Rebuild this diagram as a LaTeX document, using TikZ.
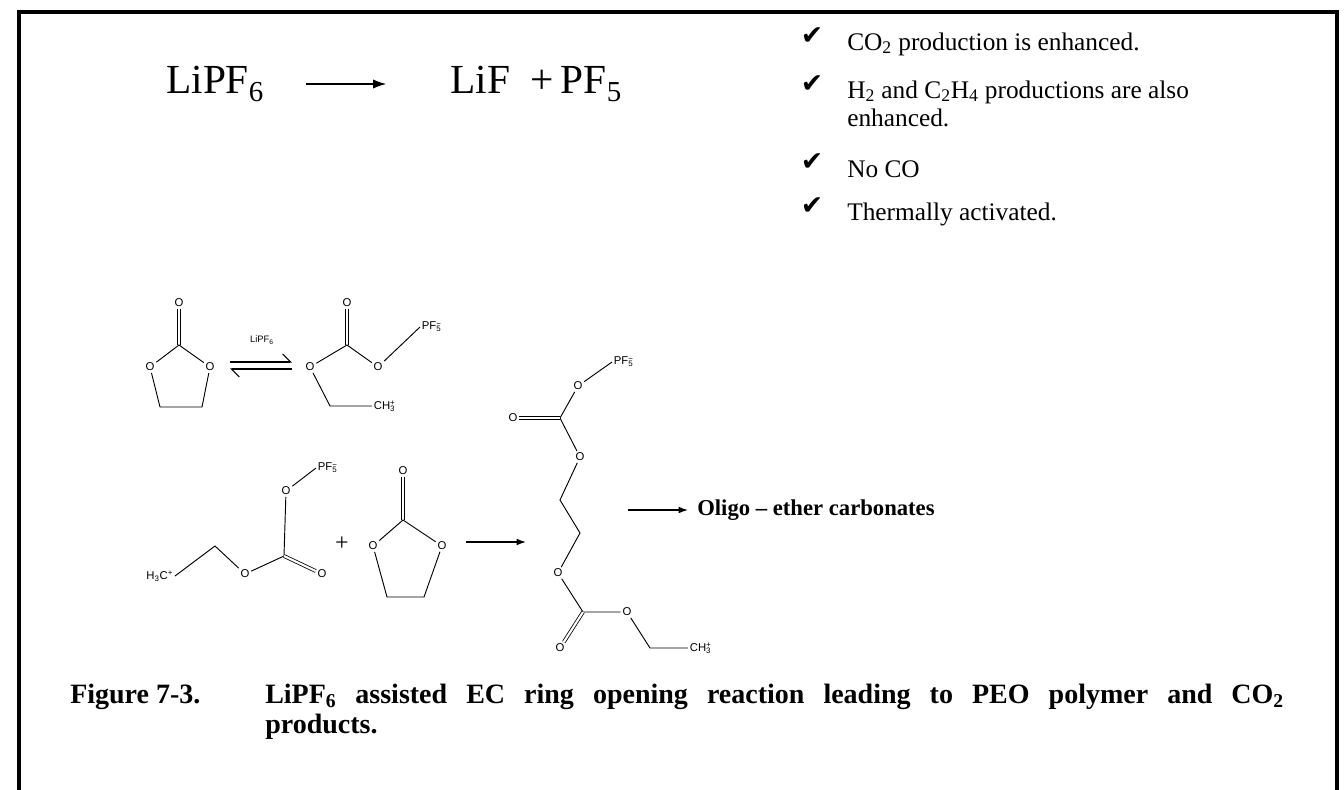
\documentclass[tikz,border=0pt]{standalone}
\usepackage{fontspec}
\setmainfont{Liberation Serif}
\newfontfamily\chemsans{Liberation Sans}
\newfontfamily\symf{DejaVu Sans}
\usetikzlibrary{arrows.meta}
\newcommand{\sbs}[1]{\textsubscript{#1}}
\newcommand{\sps}[1]{\textsuperscript{#1}}
\newcommand{\ion}[2]{\ensuremath{\vphantom{X}}\rlap{\textsuperscript{#2}}\textsubscript{#1}}
\begin{document}
\begin{tikzpicture}[x=0.75pt,y=-0.75pt,
  atm/.style={font=\chemsans\fontsize{8.5}{9}\selectfont,inner sep=1.2pt},
  bd/.style={line width=0.7pt},
  db/.style={line width=0.6pt,double,double distance=1.6pt},
  rx/.style={line width=0.9pt,-{Latex[length=7pt,width=5pt]}},
  chk/.style={font=\symf\fontsize{20}{20}\selectfont,inner sep=0pt},
  lst/.style={anchor=west,font=\fontsize{19}{22}\selectfont,inner sep=0pt}]
\useasboundingbox (0,0) rectangle (1344,789);
\draw[line width=3.2pt] (19,800) -- (19,12) -- (1337,12) -- (1337,800);
% top equation
\node[font=\fontsize{31}{34}\selectfont,anchor=west,inner sep=0pt] (lipf) at (166,84) {LiPF\sbs{6}};
\node[font=\fontsize{31}{34}\selectfont,anchor=west,inner sep=0pt] (lif) at (450,84) {LiF\ \ +\,PF\sbs{5}};
\draw[rx,line width=1.2pt,-{Latex[length=10pt,width=7pt]}] (lipf.east) ++(42,0) coordinate (ar0) -- ++(80,0) coordinate (ar1);
% checklist
\foreach \y in {36,84,162,206} \node[chk] at (812,\y) {✔};
\node[lst] (l1) at (847,44) {CO\sbs{2} production is enhanced.};
\node[lst] (l2) at (847,92) {H\sbs{2} and C\sbs{2}H\sbs{4} productions are also};
\node[lst] (l3) at (847,118) {enhanced.};
\node[lst] (l4) at (847,169) {No CO};
\node[lst] (l5) at (847,214) {Thermally activated.};
% EC 1
\node[atm] (a1) at (179,303) {O};
\coordinate (a2) at (179,345);
\node[atm] (a3) at (150,367) {O};
\node[atm] (a4) at (210,367) {O};
\coordinate (a5) at (160,407);
\coordinate (a6) at (202,407);
\draw[db] (a1) -- (a2);
\draw[bd] (a3) -- (a2) -- (a4) -- (a6) -- (a5) -- (a3);
% equilibrium
\node[atm,font=\chemsans\fontsize{7}{8}\selectfont] (lab) at (262,340) {LiPF\sbs{6}};
\draw[line width=0.8pt,-{Straight Barb[left,length=6pt]}] (230,362) -- (292,362);
\draw[line width=0.8pt,-{Straight Barb[left,length=6pt]}] (292,369) -- (230,369);
% product 1
\node[atm] (b1) at (347,303) {O};
\coordinate (b2) at (347,345);
\node[atm] (b3) at (310,367) {O};
\node[atm] (b4) at (378,367) {O};
\node[atm,anchor=west] (b5) at (420,327) {PF\ion{5}{−}};
\coordinate (b6) at (330,406);
\node[atm,anchor=west] (b7) at (372,406) {CH\ion{3}{+}};
\draw[db] (b1) -- (b2);
\draw[bd] (b3) -- (b2) -- (b4) -- (b5.west);
\draw[bd] (b3) -- (b6) -- (b7.west);
% lower left
\node[atm,anchor=east] (c1) at (175,576) {H\sbs{3}C\sps{+}};
\coordinate (c2) at (215,546);
\node[atm] (c3) at (245,574) {O};
\coordinate (c4) at (284,556);
\node[atm] (c5) at (322,574) {O};
\node[atm] (c6) at (286,491) {O};
\node[atm,anchor=west] (c7) at (316,468) {PF\ion{5}{−}};
\draw[bd] (c1.east) -- (c2) -- (c3) -- (c4) -- (c6) -- (c7.west);
\draw[db] (c4) -- (c5);
\node[font=\fontsize{18}{20}\selectfont] (plus) at (342,544) {+};
% EC 2
\node[atm] (d1) at (403,471) {O};
\coordinate (d2) at (403,520);
\node[atm] (d3) at (373,546) {O};
\node[atm] (d4) at (442,546) {O};
\coordinate (d5) at (387,597);
\coordinate (d6) at (424,597);
\draw[db] (d1) -- (d2);
\draw[bd] (d3) -- (d2) -- (d4) -- (d6) -- (d5) -- (d3);
\draw[rx] (466,542) -- (526,542);
% big molecule
\node[atm,anchor=west] (e1) at (612,362) {PF\ion{5}{−}};
\node[atm] (e2) at (578,386) {O};
\coordinate (e3) at (560,418);
\node[atm] (e4) at (513,418) {O};
\node[atm] (e5) at (580,457) {O};
\coordinate (e6) at (560,500);
\coordinate (e7) at (580,533);
\node[atm] (e8) at (558,573) {O};
\coordinate (e9) at (583,612);
\node[atm] (e10) at (627,612) {O};
\node[atm] (e11) at (560,648) {O};
\coordinate (e12) at (650,648);
\node[atm,anchor=west] (e13) at (688,648) {CH\ion{3}{+}};
\draw[bd] (e1.west) -- (e2) -- (e3) -- (e5) -- (e6) -- (e7) -- (e8) -- (e9) -- (e10) -- (e12) -- (e13.west);
\draw[db] (e3) -- (e4);
\draw[db] (e9) -- (e11);
\draw[rx] (628,510) -- (688,510);
\node[anchor=west,inner sep=0pt,font=\bfseries\fontsize{17}{19}\selectfont] (olig) at (697,510) {Oligo -- ether carbonates};
% caption
\node[anchor=west,inner sep=0pt,font=\bfseries\fontsize{21}{24}\selectfont] (fig) at (70,697) {Figure 7-3.};
\node[anchor=west,inner sep=0pt,font=\bfseries\fontsize{21}{24}\selectfont] (cap1) at (265,697) {\hbox to 764pt{LiPF\sbs{6}\hfill assisted\hfill EC\hfill ring\hfill opening\hfill reaction\hfill leading\hfill to\hfill PEO\hfill polymer\hfill and\hfill CO\sbs{2}}};
\node[anchor=west,inner sep=0pt,font=\bfseries\fontsize{21}{24}\selectfont] (cap2) at (265,727) {products.};
\end{tikzpicture}
\end{document}
